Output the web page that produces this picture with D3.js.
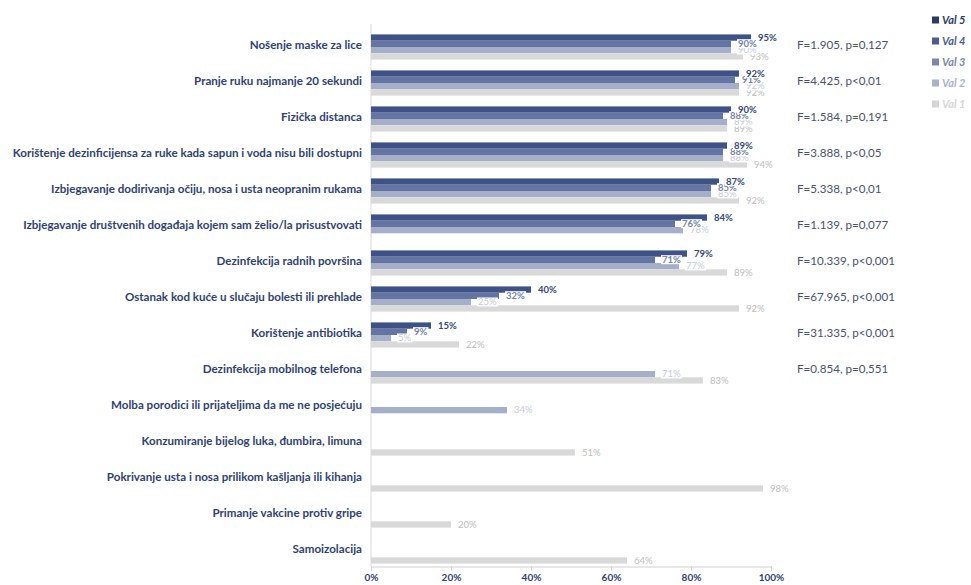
<!DOCTYPE html>
<html>
<head>
<meta charset="utf-8">
<script src="https://cdn.jsdelivr.net/npm/d3@7"></script>
<style>
  html, body { margin: 0; padding: 0; background: #ffffff; }
  svg { display: block; }
</style>
</head>
<body>
<svg id="chart" width="971" height="585"></svg>
<script>
// Preventive measures, share of respondents per survey wave (Val 1 .. Val 5)
const categories = [
  "Nošenje maske za lice",
  "Pranje ruku najmanje 20 sekundi",
  "Fizička distanca",
  "Korištenje dezinficijensa za ruke kada sapun i voda nisu bili dostupni",
  "Izbjegavanje dodirivanja očiju, nosa i usta neopranim rukama",
  "Izbjegavanje društvenih događaja kojem sam želio/la prisustvovati",
  "Dezinfekcija radnih površina",
  "Ostanak kod kuće u slučaju bolesti ili prehlade",
  "Korištenje antibiotika",
  "Dezinfekcija mobilnog telefona",
  "Molba porodici ili prijateljima da me ne posjećuju",
  "Konzumiranje bijelog luka, đumbira, limuna",
  "Pokrivanje usta i nosa prilikom kašljanja ili kihanja",
  "Primanje vakcine protiv gripe",
  "Samoizolacija"
];

const seriesNames = ["Val 5", "Val 4", "Val 3", "Val 2", "Val 1"];

const val5 = [95, 92, 90, 89, 87, 84, 79, 40, 15, null, null, null, null, null, null];
const val4 = [90, 91, 88, 88, 85, 76, 71, 32, 9, null, null, null, null, null, null];
const val3 = [null, null, null, null, null, null, null, null, null, null, null, null, null, null, null];
const val2 = [90, 92, 89, 88, 85, 78, 77, 25, 5, 71, 34, null, null, null, null];
const val1 = [93, 92, 89, 94, 92, null, 89, 92, 22, 83, null, 51, 98, 20, 64];

const fStats = [
  "F=1.905, p=0,127",
  "F=4.425, p<0,01",
  "F=1.584, p=0,191",
  "F=3.888, p<0,05",
  "F=5.338, p<0,01",
  "F=1.139, p=0,077",
  "F=10.339, p<0,001",
  "F=67.965, p<0,001",
  "F=31.335, p<0,001",
  "F=0.854, p=0,551"
];

const xTicks = [0, 20, 40, 60, 80, 100];

const seriesValues = [val5, val4, val3, val2, val1];

// Colours per wave
const barColor = {
  "Val 5": "#3f5288",
  "Val 4": "#6474a3",
  "Val 3": "#8490b2",
  "Val 2": "#a5afca",
  "Val 1": "#d9d9d9"
};
const legendColor = {
  "Val 5": "#2c3b66",
  "Val 4": "#4d5e8e",
  "Val 3": "#7c88a9",
  "Val 2": "#a9b2c9",
  "Val 1": "#d6d6d6"
};
const labelColor = {
  "Val 5": "#34467a",
  "Val 4": "#7483ad",
  "Val 3": "#9aa5c2",
  "Val 2": "#c3cadd",
  "Val 1": "#bdbdbd"
};
const labelWeight = {
  "Val 5": "bold",
  "Val 4": "bold",
  "Val 3": "normal",
  "Val 2": "normal",
  "Val 1": "normal"
};

const svg = d3.select("#chart");
const font = "Lato, 'Open Sans', sans-serif";
const axisY = 566.5;

const x = d3.scaleLinear().domain([0, 100]).range([371, 771]);

const y = d3.scaleBand()
  .domain(categories)
  .range([29, 569])
  .paddingInner(0.3)
  .paddingOuter(0.15);

// Only waves that hold at least one value take a slot inside each cluster
const activeSeries = seriesNames.filter((s, i) => seriesValues[i].some(v => v != null));
const ySub = d3.scaleBand()
  .domain(activeSeries)
  .range([0, y.bandwidth()]);

// Left axis line
svg.append("line")
  .attr("x1", x(0)).attr("x2", x(0))
  .attr("y1", 24).attr("y2", axisY)
  .attr("stroke", "#d9d9d9").attr("stroke-width", 1);

// Bottom axis
const xAxis = d3.axisBottom(x)
  .tickValues(xTicks)
  .tickFormat(d => d + "%")
  .tickSize(4)
  .tickPadding(3);

const gx = svg.append("g")
  .attr("transform", `translate(0,${axisY})`)
  .call(xAxis);
gx.select(".domain").attr("stroke", "#d0d0d0");
gx.selectAll(".tick line").attr("stroke", "#d0d0d0");
gx.selectAll(".tick text")
  .attr("fill", "#2f3f70")
  .style("font-family", font)
  .style("font-weight", "bold")
  .style("font-size", "10px");

// Category labels
svg.append("g").selectAll("text")
  .data(categories)
  .join("text")
  .attr("x", 362)
  .attr("y", d => y(d) + y.bandwidth() / 2 - 2.5)
  .attr("dy", "0.35em")
  .attr("text-anchor", "end")
  .attr("fill", "#2f3f73")
  .style("font-family", font)
  .style("font-weight", "bold")
  .style("font-size", "11.6px")
  .text(d => d);

// Bars
const records = [];
seriesNames.forEach((s, si) => {
  seriesValues[si].forEach((v, ci) => {
    if (v != null) records.push({ series: s, category: categories[ci], value: v });
  });
});

svg.append("g").selectAll("rect")
  .data(records)
  .join("rect")
  .attr("x", x(0))
  .attr("y", d => y(d.category) + ySub(d.series))
  .attr("width", d => x(d.value) - x(0))
  .attr("height", ySub.bandwidth())
  .attr("fill", d => barColor[d.series]);

// Value labels with white boxes, drawn top slot last so it stays on top
const labelG = svg.append("g");
const ordered = records.slice().sort((a, b) => activeSeries.indexOf(b.series) - activeSeries.indexOf(a.series));
ordered.forEach(d => {
  const cy = y(d.category) + ySub(d.series) + ySub.bandwidth() / 2;
  const g = labelG.append("g");
  const t = g.append("text")
    .attr("x", x(d.value) + 7)
    .attr("y", cy)
    .attr("dy", "0.35em")
    .attr("fill", labelColor[d.series])
    .style("font-family", font)
    .style("font-weight", labelWeight[d.series])
    .style("font-size", "9.5px")
    .text(d.value + "%");
  const bb = t.node().getBBox();
  g.insert("rect", "text")
    .attr("x", bb.x - 1)
    .attr("y", bb.y + 1)
    .attr("width", bb.width + 2)
    .attr("height", bb.height - 2)
    .attr("fill", "#ffffff");
});

// F-test annotations
svg.append("g").selectAll("text")
  .data(fStats)
  .join("text")
  .attr("x", 797)
  .attr("y", (d, i) => y(categories[i]) + y.bandwidth() / 2 - 2)
  .attr("dy", "0.35em")
  .attr("fill", "#47526e")
  .style("font-family", font)
  .style("font-size", "11.6px")
  .text(d => d);

// Legend
const legend = svg.append("g").selectAll("g")
  .data(seriesNames)
  .join("g")
  .attr("transform", (d, i) => `translate(932,${20 + i * 21})`);
legend.append("rect")
  .attr("x", 0).attr("y", -3.5)
  .attr("width", 7).attr("height", 7)
  .attr("fill", d => legendColor[d]);
legend.append("text")
  .attr("x", 10)
  .attr("y", 0)
  .attr("dy", "0.35em")
  .attr("fill", d => legendColor[d])
  .style("font-family", font)
  .style("font-weight", "bold")
  .style("font-style", "italic")
  .style("font-size", "11px")
  .text(d => d);
</script>
</body>
</html>
